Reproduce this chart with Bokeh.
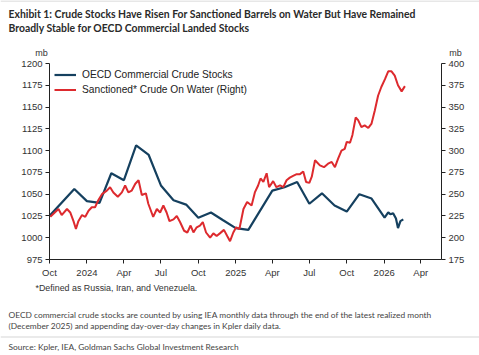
import pandas as pd
from bokeh.plotting import figure
from bokeh.layouts import column
from bokeh.models import (Range1d, LinearAxis, FixedTicker, Label, Legend, LegendItem, Span)
from bokeh.embed import file_html
from bokeh.resources import INLINE

# ---------------- data ----------------
oecd_dates = ["2023-10-01", "2023-12-01", "2024-01-01", "2024-02-01", "2024-03-01", "2024-04-01",
              "2024-05-01", "2024-06-01", "2024-07-01", "2024-08-01", "2024-09-01", "2024-10-01",
              "2024-11-01", "2024-12-01", "2025-01-01", "2025-02-01", "2025-04-01", "2025-05-01",
              "2025-06-01", "2025-07-01", "2025-08-01", "2025-09-01", "2025-10-01", "2025-11-01",
              "2025-12-01", "2026-01-02", "2026-01-11", "2026-01-16", "2026-01-23", "2026-01-30",
              "2026-02-04", "2026-02-10", "2026-02-17"]
oecd_values = [1025, 1056, 1042, 1040, 1074, 1066,
               1106, 1095, 1060, 1043, 1038, 1023,
               1029, 1020, 1011, 1009, 1054, 1058,
               1064, 1039, 1051, 1037, 1030, 1050,
               1045, 1023, 1029, 1027, 1028, 1022,
               1011, 1019, 1021]

sanctioned_dates = ["2023-10-03", "2023-10-23", "2023-10-31", "2023-11-13", "2023-11-21", "2023-11-29",
                    "2023-12-05", "2023-12-11", "2023-12-20", "2023-12-28", "2024-01-05", "2024-01-13",
                    "2024-01-21", "2024-01-29", "2024-02-07", "2024-02-19", "2024-02-27", "2024-03-06",
                    "2024-03-17", "2024-03-27", "2024-04-04", "2024-04-12", "2024-04-20", "2024-04-29",
                    "2024-05-07", "2024-05-15", "2024-05-25", "2024-05-31", "2024-06-12", "2024-06-21",
                    "2024-06-29", "2024-07-07", "2024-07-15", "2024-07-22", "2024-08-01", "2024-08-09",
                    "2024-08-17", "2024-08-27", "2024-09-04", "2024-09-12", "2024-09-19", "2024-09-27",
                    "2024-10-05", "2024-10-12", "2024-10-20", "2024-10-30", "2024-11-07", "2024-11-15",
                    "2024-11-23", "2024-12-03", "2024-12-11", "2024-12-18", "2024-12-26", "2025-01-02",
                    "2025-01-10", "2025-01-20", "2025-01-29", "2025-02-09", "2025-02-17", "2025-02-25",
                    "2025-03-03", "2025-03-10", "2025-03-18", "2025-03-24", "2025-04-03", "2025-04-11",
                    "2025-04-20", "2025-04-28", "2025-05-06", "2025-05-14", "2025-05-22", "2025-05-31",
                    "2025-06-08", "2025-06-16", "2025-06-23", "2025-07-01", "2025-07-07", "2025-07-15",
                    "2025-07-27", "2025-08-06", "2025-08-16", "2025-08-25", "2025-09-02", "2025-09-10",
                    "2025-09-18", "2025-09-26", "2025-10-01", "2025-10-09", "2025-10-15", "2025-10-23",
                    "2025-10-29", "2025-11-06", "2025-11-14", "2025-11-23", "2025-12-01", "2025-12-09",
                    "2025-12-17", "2025-12-25", "2026-01-03", "2026-01-11", "2026-01-19", "2026-01-27",
                    "2026-02-04", "2026-02-13", "2026-02-21"]
sanctioned_values = [224, 233, 226, 233, 229, 219,
                     210, 219, 226, 224, 231, 235,
                     235, 243, 250, 254, 258, 252,
                     247, 252, 260, 252, 254, 262,
                     266, 249, 251, 239, 224, 233,
                     229, 237, 229, 219, 221, 225,
                     218, 208, 206, 214, 206, 212,
                     214, 218, 206, 200, 205, 202,
                     205, 209, 202, 196, 206, 212,
                     210, 233, 241, 237, 252, 260,
                     268, 264, 274, 258, 265, 258,
                     260, 258, 266, 269, 271, 273,
                     273, 276, 264, 263, 270, 289,
                     283, 281, 285, 287, 281, 291,
                     300, 302, 310, 309, 318, 338,
                     335, 327, 329, 326, 331, 346,
                     363, 373, 382, 391, 391, 386,
                     375, 368, 374]

x_tick_dates = ["2023-10-01", "2024-01-01", "2024-04-01", "2024-07-01", "2024-10-01", "2025-01-01",
                "2025-04-01", "2025-07-01", "2025-10-01", "2026-01-01", "2026-04-01"]
x_tick_labels = ["Oct", "2024", "Apr", "Jul", "Oct", "2025", "Apr", "Jul", "Oct", "2026", "Apr"]
left_ticks = [975, 1000, 1025, 1050, 1075, 1100, 1125, 1150, 1175, 1200]
right_ticks = [175, 200, 225, 250, 275, 300, 325, 350, 375, 400]

title_lines = ["Exhibit 1: Crude Stocks Have Risen For Sanctioned Barrels on Water But Have Remained",
               "Broadly Stable for OECD Commercial Landed Stocks"]
unit_label = "mb"
footnote = "*Defined as Russia, Iran, and Venezuela."
note_lines = ["OECD commercial crude stocks are counted by using IEA monthly data through the end of the latest realized month",
              "(December 2025) and appending day-over-day changes in Kpler daily data."]
source = "Source: Kpler, IEA, Goldman Sachs Global Investment Research"

BLUE = "#15405f"
RED = "#dd2a2e"
FONT = "Liberation Sans"
FONT2 = "Lato"

W = 479
TOP_H = 58
FL, FW = 49, 392
FRAME_TOP, FH, BOT_B = 5, 196, 21
MAIN_H = FRAME_TOP + FH + BOT_B
BOTTOM_H = 355 - TOP_H - MAIN_H


def no_align(f):
    if "frame_align" in f.properties():
        f.frame_align = False


def text_panel(h):
    f = figure(width=W, height=h, output_backend="svg", toolbar_location=None,
               x_range=Range1d(0, W), y_range=Range1d(h, 0),
               x_axis_location=None, y_axis_location=None,
               min_border=0, min_border_left=0, min_border_right=0,
               min_border_top=0, min_border_bottom=0)
    f.outline_line_color = None
    f.xgrid.visible = False
    f.ygrid.visible = False
    no_align(f)
    return f


def add_text(f, txt, x, y, size, font=FONT, style="normal", color="#333333", align="left"):
    f.add_layout(Label(x=x, y=y, text=txt, text_font=font, text_font_size=size,
                       text_font_style=style, text_color=color,
                       text_baseline="middle", text_align=align))


# ---------------- top panel ----------------
top = text_panel(TOP_H)
top.add_layout(Span(location=0.5, dimension="width", line_color="#d0d0d0", line_width=1))
add_text(top, title_lines[0], 8, 13, "10.4px", font=FONT2, style="bold", color="#2a2a2a")
add_text(top, title_lines[1], 8, 27, "10.4px", font=FONT2, style="bold", color="#2a2a2a")
add_text(top, unit_label, 41, 52, "9px", align="center")
add_text(top, unit_label, 455, 52, "9px", align="center")

# ---------------- main chart ----------------
x_start = pd.Timestamp("2023-10-01")
x_end = pd.Timestamp("2026-05-22")

p = figure(width=W, height=MAIN_H, x_axis_type="datetime", output_backend="svg",
           toolbar_location=None,
           x_range=Range1d(x_start, x_end), y_range=Range1d(975, 1200),
           min_border_left=FL, min_border_right=W - FL - FW,
           min_border_top=FRAME_TOP, min_border_bottom=BOT_B)
no_align(p)
p.extra_y_ranges = {"right": Range1d(175, 400)}
p.outline_line_color = None
p.xgrid.visible = False
p.ygrid.visible = False

oecd_x = pd.to_datetime(oecd_dates)
sanc_x = pd.to_datetime(sanctioned_dates)
r1 = p.line(oecd_x, oecd_values, line_color=BLUE, line_width=2.2)
r2 = p.line(sanc_x, sanctioned_values, line_color=RED, line_width=2.0, y_range_name="right")

tick_ms = [pd.Timestamp(d).value / 1e6 for d in x_tick_dates]
xa = p.xaxis[0]
xa.ticker = FixedTicker(ticks=tick_ms, minor_ticks=[])
xa.major_label_overrides = {t: lab for t, lab in zip(tick_ms, x_tick_labels)}

ya = p.yaxis[0]
ya.ticker = FixedTicker(ticks=left_ticks, minor_ticks=[])
ra = LinearAxis(y_range_name="right", ticker=FixedTicker(ticks=right_ticks, minor_ticks=[]))
p.add_layout(ra, "right")

for ax in (xa, ya, ra):
    ax.axis_line_color = "#222222"
    ax.axis_line_width = 1
    ax.major_tick_line_color = "#222222"
    ax.major_tick_in = 0
    ax.major_tick_out = 4
    ax.minor_tick_line_color = None
    ax.major_label_text_font = FONT
    ax.major_label_text_font_size = "9.5px"
    ax.major_label_text_color = "#333333"
    ax.major_label_standoff = 3

legend = Legend(items=[LegendItem(label="OECD Commercial Crude Stocks", renderers=[r1]),
                       LegendItem(label="Sanctioned* Crude On Water (Right)", renderers=[r2])],
                location="top_left", margin=5, padding=4, spacing=2,
                label_height=13, glyph_height=13, glyph_width=22, label_standoff=6,
                label_text_font=FONT, label_text_font_size="10.2px", label_text_color="#222222",
                border_line_color=None, background_fill_alpha=0)
p.add_layout(legend, "center")

# ---------------- bottom panel ----------------
bot = text_panel(BOTTOM_H)
y0 = TOP_H + MAIN_H
add_text(bot, footnote, 35, 287 - y0, "8.9px")
add_text(bot, note_lines[0], 8, 314.5 - y0, "8.4px", font=FONT2, color="#444444")
add_text(bot, note_lines[1], 8, 325.5 - y0, "8.4px", font=FONT2, color="#444444")
bot.add_layout(Span(location=336.5 - y0, dimension="width", line_color="#d5d5d5", line_width=1))
add_text(bot, source, 8, 346 - y0, "8.4px", font=FONT2, color="#444444")

layout = column(top, p, bot, spacing=0)
open("out.html", "w").write(file_html(layout, INLINE))
